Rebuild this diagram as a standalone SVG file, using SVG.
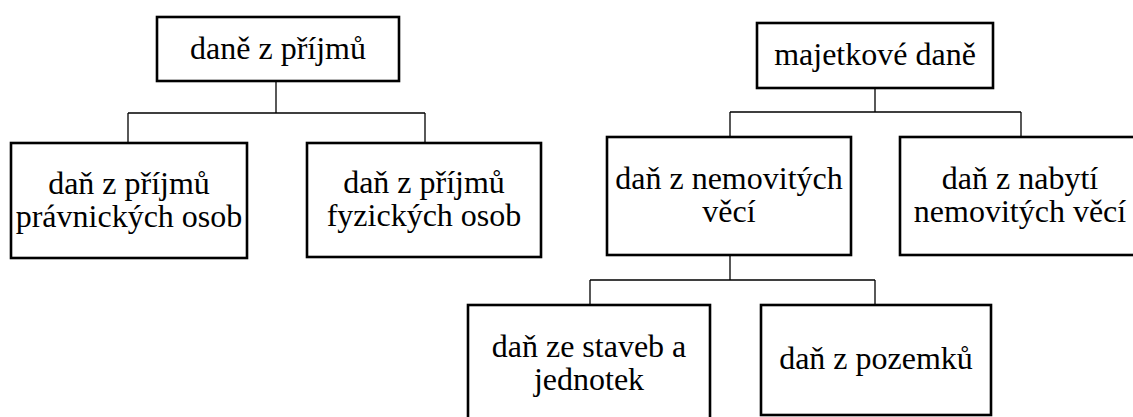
<svg xmlns="http://www.w3.org/2000/svg" width="1133" height="417" viewBox="0 0 1133 417">
  <style>
    .box { fill: #ffffff; stroke: #000000; stroke-width: 2.6; }
    .link { fill: none; stroke: #000000; stroke-width: 1.3; }
    .label { font-size: 32px; fill: #000000; text-anchor: middle; }
  </style>
  <rect width="1133" height="417" fill="#ffffff"/>

  <!-- tree connectors -->
  <g id="connectors">
    <path class="link" d="M276,81 V113 M128,113 H425 M128,113 V143 M425,113 V143"/>
    <path class="link" d="M875,88 V112 M730,112 H1021 M730,112 V137 M1021,112 V137"/>
    <path class="link" d="M730,255 V280 M590,280 H875 M590,280 V305 M875,280 V305"/>
  </g>

  <g font-family="'Liberation Serif', 'DejaVu Serif', serif">
    <g id="income-taxes">
      <rect class="box" x="157" y="17" width="242" height="64"/>
      <text class="label" x="278" y="59">daně z příjmů</text>
    </g>

    <g id="corporate-income-tax">
      <rect class="box" x="11" y="143" width="236" height="115"/>
      <text class="label" x="129" y="194">daň z příjmů</text>
      <text class="label" x="129" y="227">právnických osob</text>
    </g>

    <g id="personal-income-tax">
      <rect class="box" x="307" y="143" width="234" height="114"/>
      <text class="label" x="424" y="193">daň z příjmů</text>
      <text class="label" x="424" y="226">fyzických osob</text>
    </g>

    <g id="property-taxes">
      <rect class="box" x="757" y="23" width="236" height="65"/>
      <text class="label" x="875" y="65">majetkové daně</text>
    </g>

    <g id="real-estate-tax">
      <rect class="box" x="607" y="137" width="244" height="118"/>
      <text class="label" x="729" y="189">daň z nemovitých</text>
      <text class="label" x="729" y="222">věcí</text>
    </g>

    <g id="acquisition-tax">
      <rect class="box" x="900" y="137" width="242" height="118"/>
      <text class="label" x="1020" y="189">daň z nabytí</text>
      <text class="label" x="1020" y="222">nemovitých věcí</text>
    </g>

    <g id="building-tax">
      <rect class="box" x="468" y="305" width="242" height="118"/>
      <text class="label" x="589" y="357">daň ze staveb a</text>
      <text class="label" x="589" y="390">jednotek</text>
    </g>

    <g id="land-tax">
      <rect class="box" x="761" y="305" width="230" height="110"/>
      <text class="label" x="876" y="369">daň z pozemků</text>
    </g>
  </g>
</svg>
